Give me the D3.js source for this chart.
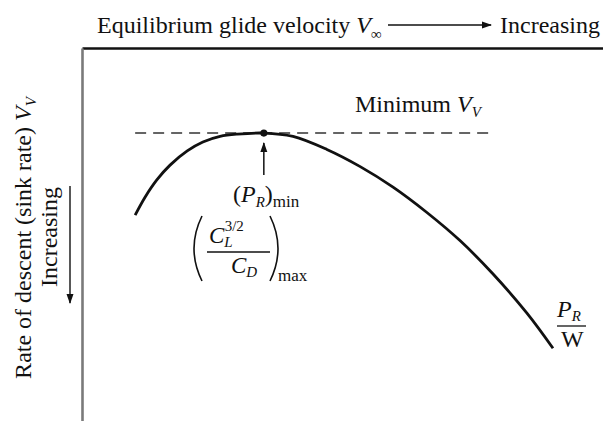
<!DOCTYPE html>
<html>
<head>
<meta charset="utf-8">
<script src="https://cdn.jsdelivr.net/npm/d3@7/dist/d3.min.js"></script>
<style>
  html, body { margin: 0; padding: 0; background: #fff; }
  svg { display: block; }
  text { font-family: "Liberation Serif", "Times New Roman", serif; fill: #111; }
</style>
</head>
<body>
<svg id="chart" width="603" height="421"></svg>
<script>
// Glide velocity (relative units, increasing to the right)
const velocity = [10.2, 12.1, 14.4, 16.9, 20.2, 23.2, 26.5, 29.8, 34.9, 40.5, 47.0, 53.4, 59.7, 66.2, 72.6, 78.9, 85.4, 90.4];
// Sink rate P_R / W (relative units, increasing downward)
const sinkRate = [44.8, 40.0, 35.3, 31.4, 27.6, 25.2, 23.7, 23.1, 22.8, 23.7, 27.2, 31.8, 37.3, 44.1, 51.7, 60.6, 71.1, 80.5];
// Point of minimum sink rate, (C_L^{3/2}/C_D)max
const minPoint = [34.9, 22.8];
// Velocity span of the dashed "minimum V_V" reference line
const minLineSpan = [10.2, 79.0];

const svg = d3.select("#chart");
const W = 603, H = 421;
const margin = { left: 82, top: 48 };
const FS = 24, SUB = 15;

const x = d3.scaleLinear().domain([0, 100]).range([margin.left, W]);
const y = d3.scaleLinear().domain([0, 100]).range([margin.top, H]);

// Axes: bare lines, no ticks
const topAxis = svg.append("g")
  .attr("transform", `translate(0,${margin.top})`)
  .call(d3.axisTop(x).tickValues([]).tickSizeOuter(0));
topAxis.select(".domain").attr("stroke", "#111").attr("stroke-width", 2.4);

const leftAxis = svg.append("g")
  .attr("transform", `translate(${margin.left},0)`)
  .call(d3.axisLeft(y).tickValues([]).tickSizeOuter(0));
leftAxis.select(".domain").attr("stroke", "#7a7a7a").attr("stroke-width", 2.6);

// Arrow marker
const defs = svg.append("defs");
defs.append("marker")
  .attr("id", "arrow")
  .attr("viewBox", "0 0 10 10")
  .attr("refX", 9).attr("refY", 5)
  .attr("markerWidth", 10).attr("markerHeight", 10)
  .attr("markerUnits", "userSpaceOnUse")
  .attr("orient", "auto")
  .append("path")
  .attr("d", "M0,1.5 L10,5 L0,8.5 Z")
  .attr("fill", "#111");

// Dashed minimum line
svg.append("line")
  .attr("x1", x(minLineSpan[0])).attr("x2", x(minLineSpan[1]))
  .attr("y1", y(minPoint[1])).attr("y2", y(minPoint[1]))
  .attr("stroke", "#333").attr("stroke-width", 1.6)
  .attr("stroke-dasharray", "11,7");

// Curve
const pts = velocity.map((v, i) => [v, sinkRate[i]]);
const line = d3.line()
  .x(d => x(d[0])).y(d => y(d[1]))
  .curve(d3.curveCatmullRom.alpha(0.5));
svg.append("path")
  .attr("d", line(pts))
  .attr("fill", "none")
  .attr("stroke", "#111")
  .attr("stroke-width", 2.8);

// Minimum point
svg.append("circle")
  .attr("cx", x(minPoint[0])).attr("cy", y(minPoint[1]))
  .attr("r", 3.6).attr("fill", "#111");

// Arrow pointing up at the minimum
svg.append("line")
  .attr("x1", x(minPoint[0])).attr("x2", x(minPoint[0]))
  .attr("y1", y(minPoint[1]) + 42).attr("y2", y(minPoint[1]) + 10)
  .attr("stroke", "#111").attr("stroke-width", 1.5)
  .attr("marker-end", "url(#arrow)");

// Title row
const title = svg.append("text").attr("x", 97).attr("y", 33).attr("font-size", FS);
title.append("tspan").text("Equilibrium glide velocity ");
title.append("tspan").attr("font-style", "italic").text("V");
title.append("tspan").attr("font-size", SUB).attr("dy", 6).text("∞");

svg.append("line")
  .attr("x1", 388).attr("x2", 491).attr("y1", 25).attr("y2", 25)
  .attr("stroke", "#111").attr("stroke-width", 1.4)
  .attr("marker-end", "url(#arrow)");

svg.append("text").attr("x", 500).attr("y", 33).attr("font-size", FS).text("Increasing");

// Y axis label
const yl = svg.append("text")
  .attr("transform", "translate(31,238) rotate(-90)")
  .attr("text-anchor", "middle").attr("font-size", FS);
yl.append("tspan").text("Rate of descent (sink rate) ");
yl.append("tspan").attr("font-style", "italic").text("V");
yl.append("tspan").attr("font-style", "italic").attr("font-size", SUB).attr("dy", 5).text("V");

svg.append("text")
  .attr("transform", "translate(57,287) rotate(-90)")
  .attr("font-size", FS).text("Increasing");
svg.append("line")
  .attr("x1", 70).attr("x2", 70).attr("y1", 186).attr("y2", 303)
  .attr("stroke", "#111").attr("stroke-width", 1.4)
  .attr("marker-end", "url(#arrow)");

// "Minimum V_V"
const mv = svg.append("text").attr("x", 355).attr("y", 112).attr("font-size", FS);
mv.append("tspan").text("Minimum ");
mv.append("tspan").attr("font-style", "italic").text("V");
mv.append("tspan").attr("font-style", "italic").attr("font-size", SUB).attr("dy", 5).text("V");

// (P_R)min
const pr = svg.append("text").attr("x", 233).attr("y", 202).attr("font-size", FS);
pr.append("tspan").text("(");
pr.append("tspan").attr("font-style", "italic").text("P");
pr.append("tspan").attr("font-style", "italic").attr("font-size", SUB).attr("dy", 5).text("R");
pr.append("tspan").attr("dy", -5).text(")");
pr.append("tspan").attr("font-size", 17).attr("dy", 5).text("min");

// (C_L^{3/2} / C_D)max
const num = svg.append("text").attr("x", 209).attr("y", 243).attr("font-size", 23);
num.append("tspan").attr("font-style", "italic").text("C");
num.append("tspan").attr("font-style", "italic").attr("font-size", SUB).attr("dy", 4).text("L");
num.append("tspan").attr("font-size", SUB).attr("dx", -8).attr("dy", -16).text("3/2");

svg.append("line")
  .attr("x1", 207).attr("x2", 270).attr("y1", 252).attr("y2", 252)
  .attr("stroke", "#111").attr("stroke-width", 1.5);

const den = svg.append("text").attr("x", 231).attr("y", 273).attr("font-size", 23);
den.append("tspan").attr("font-style", "italic").text("C");
den.append("tspan").attr("font-style", "italic").attr("font-size", SUB).attr("dy", 4).text("D");

svg.append("path")
  .attr("d", "M202,216 Q186,248.5 202,281")
  .attr("fill", "none").attr("stroke", "#111").attr("stroke-width", 1.6);
svg.append("path")
  .attr("d", "M270,216 Q286,248.5 270,281")
  .attr("fill", "none").attr("stroke", "#111").attr("stroke-width", 1.6);

svg.append("text").attr("x", 278).attr("y", 281).attr("font-size", 17).text("max");

// P_R / W
const pw = svg.append("text").attr("x", 557).attr("y", 317).attr("font-size", FS);
pw.append("tspan").attr("font-style", "italic").text("P");
pw.append("tspan").attr("font-style", "italic").attr("font-size", SUB).attr("dy", 4).text("R");
svg.append("line")
  .attr("x1", 557).attr("x2", 586).attr("y1", 326).attr("y2", 326)
  .attr("stroke", "#111").attr("stroke-width", 1.3);
svg.append("text").attr("x", 561).attr("y", 347).attr("font-size", FS).text("W");
</script>
</body>
</html>
